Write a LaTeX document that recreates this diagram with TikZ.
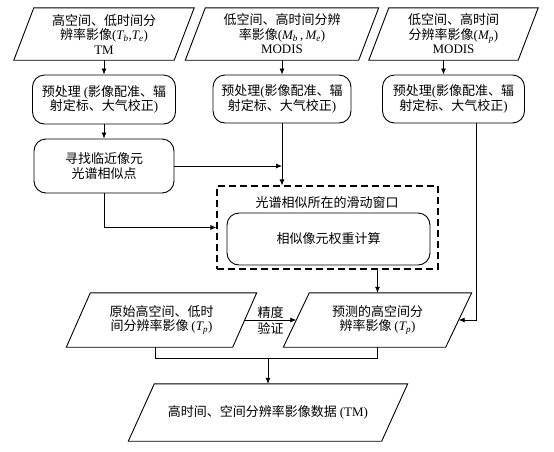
\documentclass[tikz,border=0pt]{standalone}
\usepackage{fontspec}
\setmainfont{Liberation Serif}
\newfontfamily\cjk{Noto Sans CJK SC}
\usetikzlibrary{arrows.meta,calc}
\newcommand\lat[1]{{\rmfamily #1}}
\newcommand\Tv[1]{{\rmfamily\itshape T\textsubscript{#1}}}
\newcommand\Mv[1]{{\rmfamily\itshape M\textsubscript{#1}}}
\newcommand\drawpara[2]{\draw[line width=0.9pt]
      ($(#1.north west)+(#2pt,0pt)$) --
      ($(#1.north east)+(#2pt,0pt)$) --
      ($(#1.south east)+(-#2pt,0pt)$) --
      ($(#1.south west)+(-#2pt,0pt)$) -- cycle;}
\tikzset{
  txt/.style={font=\cjk\fontsize{13}{14.5}\selectfont, align=center, inner sep=0pt},
  conn/.style={line width=0.8pt},
  arr/.style={line width=0.8pt,-{Latex[length=6pt,width=5pt]}},
  para/.style={txt, rectangle},
  rbox/.style={txt, draw, line width=0.9pt, rounded corners=12pt},
  dbox/.style={draw, line width=1.1pt, dash pattern=on 7pt off 4pt, inner sep=0pt}
}
\begin{document}
\begin{tikzpicture}[x=1pt,y=-1pt]
\fill[white] (0,0) rectangle (554,451);
\useasboundingbox (0,0) rectangle (554,451);

% top row
\node[para, minimum width=160pt, minimum height=52pt] (p1) at (104,34)
  {高空间、低时间分\\辨率影像\lat{(\Tv{b},\Tv{e})}\\\lat{TM}};
\node[para, minimum width=173pt, minimum height=52pt] (p2) at (282,34)
  {低空间、高时间分辨\\率影像\lat{(\Mv{b}\,,\,\Mv{e})}\\\lat{MODIS}};
\node[para, minimum width=149pt, minimum height=52pt] (p3) at (453.5,34)
  {低空间、高时间\\分辨率影像\lat{(\Mv{p})}\\\lat{MODIS}};
\drawpara{p1}{10}
\drawpara{p2}{10}
\drawpara{p3}{10}

% preprocessing
\node[rbox, minimum width=143pt, minimum height=49pt] (b1) at (104,99.5)
  {预处理 \lat{(}影像配准、辐\\射定标、大气校正\lat{)}};
\node[rbox, minimum width=138pt, minimum height=48pt] (b2) at (282,99)
  {预处理\lat{(}影像配准、辐\\射定标、大气校正\lat{)}};
\node[rbox, minimum width=142pt, minimum height=48pt] (b3) at (453.5,99)
  {预处理\lat{(}影像配准、辐\\射定标、大气校正\lat{)}};

% search
\node[rbox, minimum width=140pt, minimum height=54pt] (b4) at (104,166)
  {寻找临近像元\\光谱相似点};

% sliding window
\node[dbox, minimum width=221pt, minimum height=83pt] (dw) at (327.5,227.5) {};
\node[txt] (title) at (327,203) {光谱相似所在的滑动窗口};
\node[rbox, minimum width=203pt, minimum height=52pt] (inner) at (328.5,239)
  {相似像元权重计算};

% bottom row
\node[para, minimum width=166pt, minimum height=54pt] (orig) at (161.5,320)
  {原始高空间、低时\\间分辨率影像 \lat{(\Tv{p})}};
\node[para, minimum width=162pt, minimum height=54pt] (pred) at (377.5,320)
  {预测的高空间分\\辨率影像 \lat{(\Tv{p})}};
\node[para, minimum width=253pt, minimum height=57pt] (final) at (268,412.5)
  {高时间、空间分辨率影像数据 \lat{(TM)}};
\drawpara{orig}{12}
\drawpara{pred}{13}
\drawpara{final}{13}

% connectors
\draw[arr] (p1.south) -- (b1.north);
\draw[arr] (p2.south) -- (b2.north);
\draw[arr] ([xshift=-10pt]p3.south) -- ([xshift=-10pt]b3.north);
\draw[arr] (b1.south) -- (b4.north);
\draw[arr] (b2.south) -- (b2.south |- dw.north);
\draw[arr] (b4.east) -- (b2.south |- b4.east);
\draw[arr] (b4.south) |- (dw.west);
\draw[arr] ([xshift=50pt]dw.south) -- (pred.north);
\draw[arr] ([xshift=23pt]b3.south) |- (pred.east);
\draw[arr] (orig.east) -- node[txt, font=\cjk\fontsize{13}{16}\selectfont] (lbl) {精度\\验证} (pred.west);
\coordinate (m) at ($(final.north)+(0pt,25pt)$);
\draw[conn] ([xshift=-6pt]orig.south) |- (m) -| (pred.south);
\draw[arr] (m) -- (final.north);
\end{tikzpicture}
\end{document}
